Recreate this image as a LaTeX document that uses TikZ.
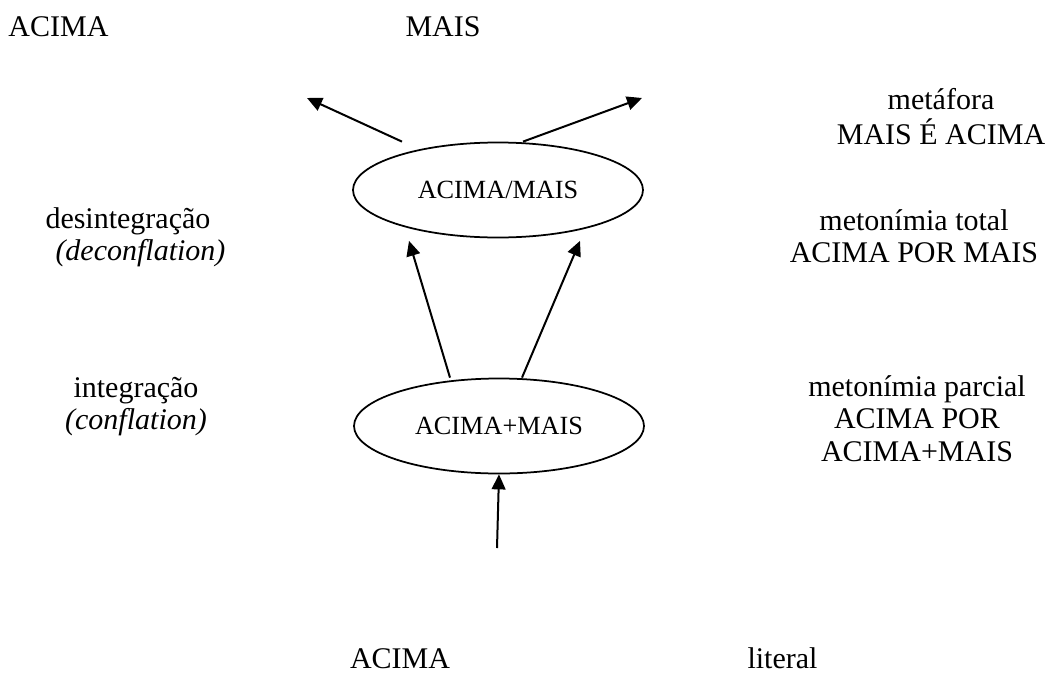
\documentclass[tikz,border=0pt]{standalone}
\usepackage{fontspec}
\setmainfont{Liberation Serif}
\usepackage{tikz}
\usetikzlibrary{arrows.meta,calc,positioning,shapes.geometric}
\tikzset{
  lbl/.style={inner sep=0pt,font=\fontsize{12}{13}\selectfont},
  oval/.style={ellipse,draw,line width=0.7pt,minimum width=116pt,
    minimum height=38pt,inner sep=0pt,font=\fontsize{10.5}{12}\selectfont},
  arr/.style={-{Triangle[length=6pt,width=5.5pt]},line width=0.8pt}
}
\newcommand{\lblstack}[2][c]{\begin{tabular}[t]{@{}#1@{}}#2\end{tabular}}

\begin{document}
\begin{tikzpicture}[x=0.4pt,y=-0.4pt]
  \useasboundingbox (0,0) rectangle (1046,673);
  % the two ovals
  \node[oval] (upper) at (498,190) {ACIMA/MAIS};
  \node[oval] (lower) at (499,426) {ACIMA+MAIS};
  % top line
  \node[lbl,anchor=base west] (topacima) at (8,36) {ACIMA};
  \node[lbl,anchor=base west] (topmais) at (405,36) {MAIS};
  % left column
  \node[lbl,anchor=base west] (desint) at (45,228)
    {\lblstack[l]{desintegração\\\hspace*{4pt}\textit{(deconflation)}}};
  \node[lbl,anchor=base] (integ) at (136,397)
    {\lblstack{integração\\\textit{(conflation)}}};
  % right column
  \node[lbl,anchor=base] (metaf) at (941,109) {\lblstack{metáfora\\MAIS É ACIMA}};
  \node[lbl,anchor=base] (mtotal) at (914,230) {\lblstack{metonímia total\\ACIMA POR MAIS}};
  \node[lbl,anchor=base] (mparc) at (917,396)
    {\lblstack{metonímia parcial\\ACIMA POR\\ACIMA+MAIS}};
  % bottom line
  \node[lbl,anchor=base] (botacima) at (400,668) {ACIMA};
  \node[lbl,anchor=base west] (literal) at (747,668) {literal};
  % arrows
  \coordinate (tipl) at (307,98);
  \coordinate (tipr) at (642,98);
  \coordinate (src) at (497,548);
  \draw[arr] ($(upper.north)+(-96,0)$) -- (tipl);
  \draw[arr] ($(upper.north)+(25,0)$) -- (tipr);
  \draw[arr] ($(lower.north)+(-49,0)$) -- ($(upper.south)+(-89,2.5)$);
  \draw[arr] ($(lower.north)+(23,0)$) -- ($(upper.south)+(82,2.5)$);
  \draw[arr] (src) -- (lower.south);
\end{tikzpicture}
\end{document}
